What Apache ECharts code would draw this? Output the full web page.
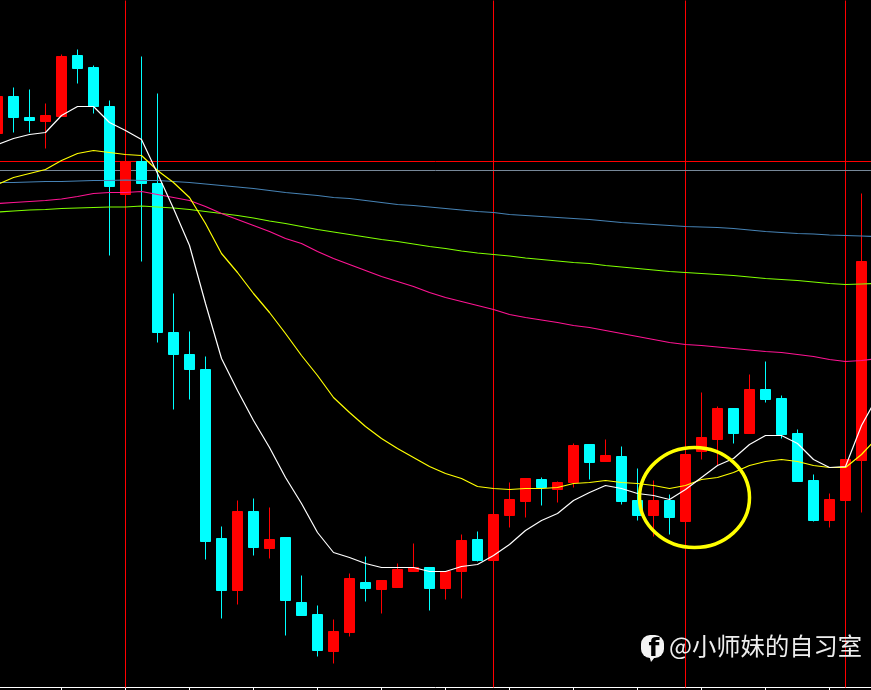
<!DOCTYPE html>
<html>
<head>
<meta charset="utf-8">
<style>html,body{margin:0;padding:0;background:#000;}#c{width:871px;height:690px;}</style>
<script src="https://cdn.jsdelivr.net/npm/echarts@6/dist/echarts.min.js"></script>
</head>
<body>
<div id="c"></div>
<script>
// Values, in chart units (the source has no price labels).
const opens = [554,591,570,566,571,632,620,581,493,526,504,355,333,318,149,97,176,139,150,85,73,36,55,105,98,100,116,120,99,116,148,127,172,186,208,198,205,243,226,231,187,172,187,166,236,248,279,254,298,289,254,207,167,187,227];
const closes = [591,570,567,572,631,619,581,501,526,504,355,333,318,146,97,176,140,148,87,72,37,56,109,99,107,118,120,99,116,147,127,173,188,209,200,205,242,225,232,186,172,187,170,233,250,279,254,298,288,253,206,167,188,228,426];
const lows = [554,555,555,539,571,604,574,432,493,426,345,278,288,128,69,83,132,129,52,72,31,24,51,86,74,100,116,77,88,89,126,127,160,170,182,185,200,208,226,183,167,151,153,166,228,222,244,254,285,249,206,166,160,187,175];
const highs = [591,600,598,584,633,638,622,587,526,631,594,394,356,331,161,187,189,180,150,112,82,68,114,131,107,124,144,120,116,153,156,173,205,209,210,206,244,243,248,241,219,207,193,233,295,281,279,313,326,292,258,213,194,228,494];
const maWhite = [543,549,553,555,572,581,581,565,557,548,514,479,442,384,329,297,267,240,210,184,155,135,130,124,120,120,120,116,116,121,123,132,143,157,167,174,187,195,202,199,194,192,188,198,210,222,229,243,252,252,244,228,220,221,262,291];
const maYellow = [503,510,514,518,527,534,537,535,533,532,517,505,490,464,434,415,394,375,354,332,312,290,275,261,249,239,230,221,214,209,201,199,198,199,199,200,204,205,207,205,204,202,199,202,208,210,215,222,226,228,226,222,220,220,233,250];
const maPink = [484,485,486,487,488.5,491,494,495,495,496,493,490,487,481,474,468,462,456,449,444,436,429,423,417,411,406,401,395,390,386,382,378,373,370,367.5,365,362,360,357,354,351,348,345,343,342,340.5,339,337.5,336,335,333,331,328,326,327,329];
const maLime = [475.5,476.5,477.5,478,479,479.5,480,480.5,480.5,481.5,480.5,479.5,478,476,474,472,469.5,466.5,464,461,458,455.5,453,450.5,448,446,443.5,441,439,436.5,434.5,433,431.5,429.5,428,426.5,425,424,422,420.5,419,417.5,416,415,414,413,412,410.5,409,408,407,405.5,404,403,403.5,404];
const maBlue = [505,505,505.5,506,506,506.5,507,507,507.5,507,507,506,505,503.5,502,500.5,499,497,495,493.5,492,490,489,487,485,483,482,480.5,479,477.5,476,475,473,472,471,470,469,468,466.5,465,464,463,462,461,460.5,460,459,457.5,456,455,454,453.5,452.5,452,451.5,451];
const categories = maWhite.map((_, i) => String(i + 1));
const verticalLines = ['9', '32', '44', '54'];
const levelRed = 526;
const levelGrey = 517;
const watermark = '@小师妹的自习室';

const candles = opens.map((o, i) => [o, closes[i], lows[i], highs[i]]);
const lineSeries = (data, color) => ({
  type: 'line', data, z: 5, symbol: 'none', silent: true, smooth: false,
  lineStyle: { color, width: 1.2 }
});

const chart = echarts.init(document.getElementById('c'), null, { renderer: 'canvas' });
chart.setOption({
  animation: false,
  backgroundColor: '#000000',
  grid: { left: -10.5, top: 0.5, width: 896, height: 687, containLabel: false, outerBoundsMode: 'none' },
  xAxis: {
    type: 'category', data: categories, boundaryGap: true,
    axisLine: { show: true, onZero: false, lineStyle: { color: '#ffffff', width: 1 } },
    axisTick: { show: true, alignWithLabel: true, length: 3, interval: i => i % 4 === 0, lineStyle: { color: '#ffffff', width: 1 } },
    axisLabel: { show: false },
    splitLine: { show: false }
  },
  yAxis: {
    type: 'value', min: 0, max: 687, show: false, splitLine: { show: false }
  },
  series: [
    {
      type: 'line', data: [], z: 1, silent: true,
      markLine: {
        silent: true, symbol: 'none', animation: false, z: 1,
        label: { show: false },
        lineStyle: { type: 'solid', width: 1 },
        data: [
          ...verticalLines.map(v => ({ xAxis: v, lineStyle: { color: '#ff0000', width: 1, type: 'solid' } })),
          { yAxis: levelRed, lineStyle: { color: '#ff0000', width: 1, type: 'solid' } },
          { yAxis: levelGrey, lineStyle: { color: '#778899', width: 1, type: 'solid' } }
        ]
      }
    },
    {
      type: 'candlestick', data: candles, barWidth: 10, z: 3, silent: true,
      itemStyle: { color: '#ff0000', color0: '#00ffff', borderColor: '#ff0000', borderColor0: '#00ffff', borderWidth: 1 }
    },
    lineSeries(maBlue, '#4682b4'),
    lineSeries(maLime, '#7fff00'),
    lineSeries(maPink, '#ff1493'),
    lineSeries(maYellow, '#ffff00'),
    lineSeries(maWhite, '#ffffff')
  ],
  graphic: [
    { type: 'ellipse', z: 100, silent: true, shape: { cx: 694.5, cy: 497.5, rx: 55, ry: 50 }, style: { fill: 'none', stroke: '#ffff00', lineWidth: 3.5 } },
    { type: 'rect', z: 100, silent: true, shape: { x: 641, y: 635, width: 23, height: 23, r: 9 }, style: { fill: '#f4f4f4' } },
    { type: 'polygon', z: 100, silent: true, shape: { points: [[649, 655], [655, 657], [651, 662]] }, style: { fill: '#f4f4f4' } },
    { type: 'text', z: 101, silent: true, style: { x: 654, y: 649, text: 'f', fill: '#000000', font: 'bold 25px "DejaVu Sans"', align: 'center', verticalAlign: 'middle' } },
    { type: 'text', z: 101, silent: true, style: { x: 669, y: 646, text: watermark, fill: '#eeeeee', font: '24.3px "Noto Sans CJK SC"', align: 'left', verticalAlign: 'middle' } }
  ]
});
</script>
</body>
</html>
